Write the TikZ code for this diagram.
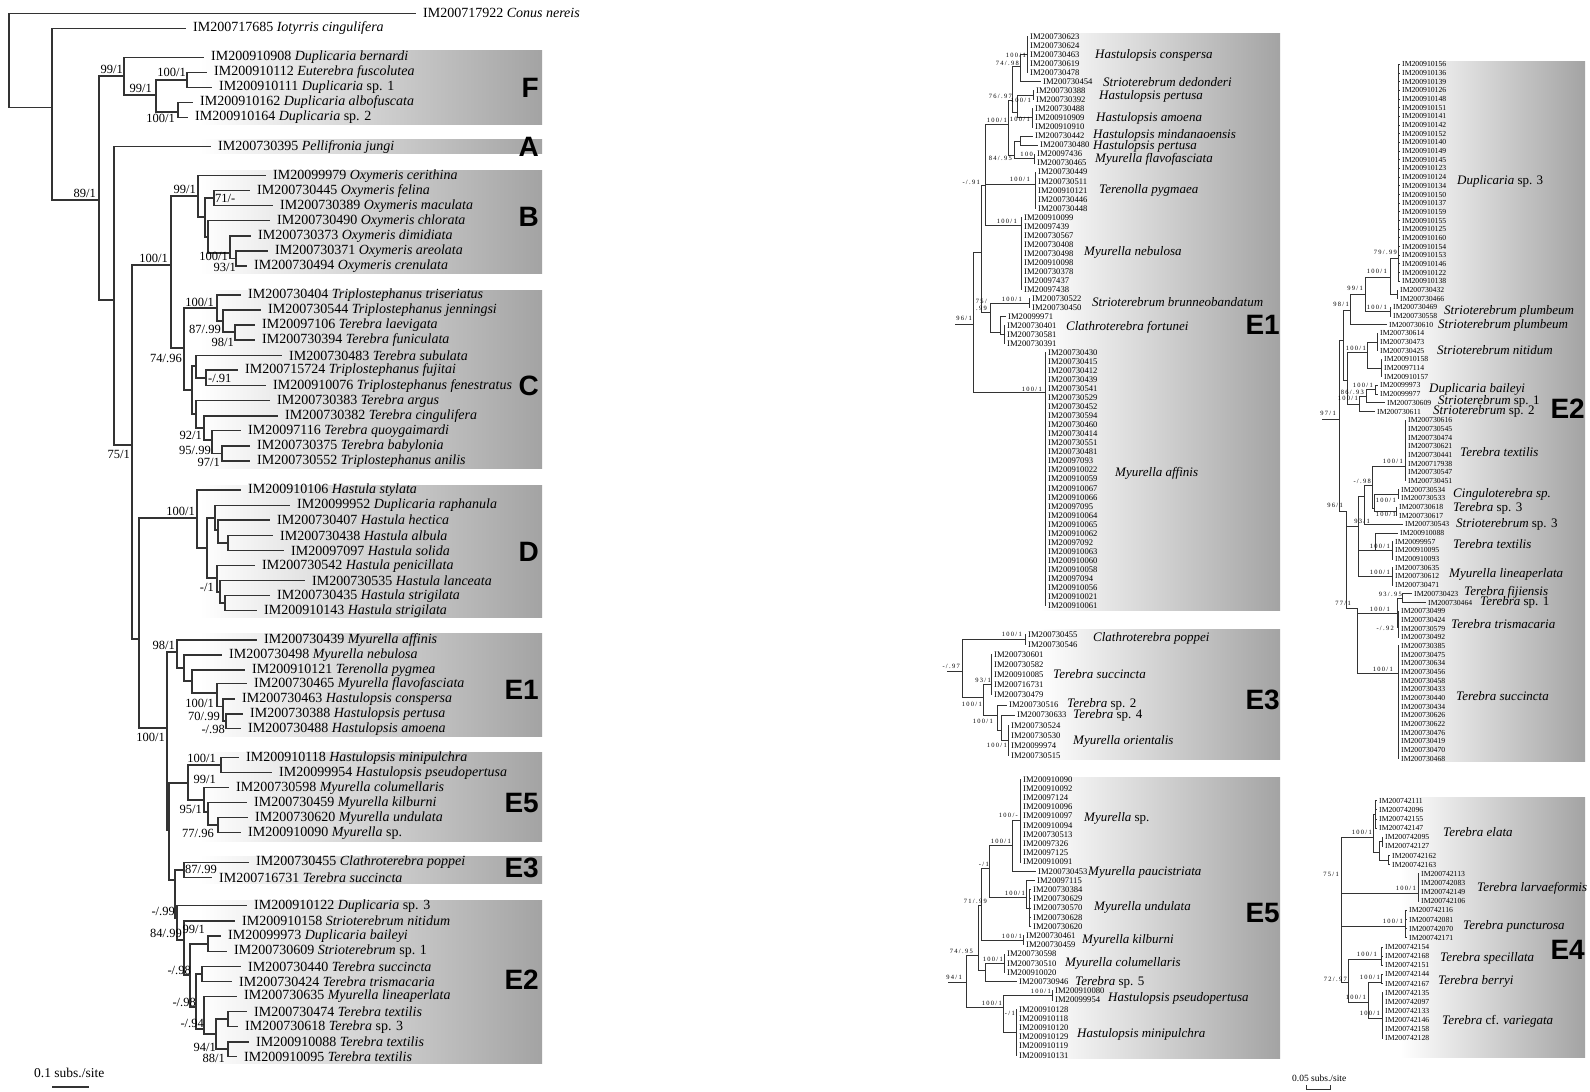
\documentclass[tikz,border=0pt]{standalone}
\usepackage{fontspec}
\setmainfont{Liberation Serif}
\newfontfamily\cladefont{Liberation Sans}
\newfontfamily\supfont[LetterSpace=20]{Liberation Serif}
\begin{document}
\begin{tikzpicture}[x=1pt, y=-1pt,
  br/.style={line width=1.3pt, black!80},
  brm/.style={line width=0.9pt, black!80},
  box/.style={left color=white, right color=black!36},
  leaf/.style={anchor=west, inner xsep=7pt, inner ysep=0pt, font=\fontsize{14}{14}\selectfont},
  sup/.style={anchor=east, inner sep=0pt, font=\fontsize{12.5}{13}\selectfont},
  supm/.style={anchor=east, inner sep=0pt, font=\supfont\fontsize{6.5}{7.5}\selectfont},
  idm/.style={anchor=west, inner xsep=2pt, inner ysep=0pt, font=\fontsize{8.6}{9}\selectfont},
  idr/.style={anchor=west, inner xsep=2pt, inner ysep=0pt, font=\fontsize{7.7}{8}\selectfont},
  spm/.style={anchor=west, inner sep=0pt, font=\fontsize{13}{14}\selectfont\itshape},
  clade/.style={anchor=east, inner sep=0pt, font=\cladefont\bfseries\fontsize{28}{28}\selectfont}
]
\useasboundingbox (0,0) rectangle (1590,1092);

\shade[box] (200,50) rectangle (542,124);
\shade[box] (200,139) rectangle (542,153);
\shade[box] (200,170) rectangle (542,273);
\shade[box] (200,290) rectangle (542,468);
\shade[box] (200,485) rectangle (542,617);
\shade[box] (200,633) rectangle (542,736);
\shade[box] (200,752) rectangle (542,841);
\shade[box] (200,856) rectangle (542,883);
\shade[box] (200,900) rectangle (542,1063);
\shade[box] (1040,33) rectangle (1280,610);
\shade[box] (1040,629) rectangle (1280,759);
\shade[box] (1040,777) rectangle (1280,1058);
\shade[box] (1400,61) rectangle (1585,761);
\shade[box] (1400,797) rectangle (1585,1057);

\node[clade] (cF) at (539,88) {F};
\node[clade] (cA) at (539,147) {A};
\node[clade] (cB) at (539,217) {B};
\node[clade] (cC) at (539,386) {C};
\node[clade] (cD) at (539,552) {D};
\node[clade] (cE1) at (539,690) {E1};
\node[clade] (cE5) at (539,803) {E5};
\node[clade] (cE3) at (539,868) {E3};
\node[clade] (cE2) at (539,980) {E2};
\node[clade] (mE1) at (1280,325) {E1};
\node[clade] (mE3) at (1280,700) {E3};
\node[clade] (mE5) at (1280,913) {E5};
\node[clade] (rE2) at (1585,409) {E2};
\node[clade] (rE4l) at (1585,950) {E4};

\coordinate (r0) at (9,13.3);
\coordinate (n52) at (52,107.3);
\coordinate (n99) at (99,200);
\coordinate (n114) at (114,300);
\coordinate (n132) at (132,445);
\coordinate (nDE) at (139,639);
\coordinate (nF) at (124,76);
\coordinate (nF1) at (156,95);
\coordinate (nF2) at (187,80);
\coordinate (nF3) at (178,112);
\coordinate (nBC) at (171,265);
\coordinate (nB) at (198,196);
\coordinate (nB1) at (205,217);
\coordinate (nB2) at (214,198);
\coordinate (nB3) at (208,237);
\coordinate (nB4) at (230,253);
\coordinate (nB5) at (236,258.5);
\coordinate (nC) at (184,348);
\coordinate (nC1) at (217,308);
\coordinate (nC3) at (223,321);
\coordinate (nC4) at (235,332);
\coordinate (nC2) at (192,390);
\coordinate (nC5) at (196,366);
\coordinate (nC7) at (206,378);
\coordinate (nC6) at (196,414);
\coordinate (nC8) at (204,428);
\coordinate (nC9) at (212,440);
\coordinate (nC10) at (222,453.5);
\coordinate (nD) at (197,518);
\coordinate (nD1) at (207,548);
\coordinate (nD2) at (215,518);
\coordinate (nD4) at (218,530);
\coordinate (nD5) at (228,543);
\coordinate (nD3) at (217,578);
\coordinate (nD6) at (220,592);
\coordinate (nD7) at (225,603);
\coordinate (nE) at (167,728);
\coordinate (nE1) at (177,652);
\coordinate (nE11) at (184,668);
\coordinate (nE12) at (192,681);
\coordinate (nE13) at (217,693);
\coordinate (nE14) at (223,706.5);
\coordinate (nE15) at (226,721);
\coordinate (nE2) at (169,830);
\coordinate (nE5) at (188,783);
\coordinate (nE51) at (221,765);
\coordinate (nE52) at (204,800);
\coordinate (nE53) at (208,812);
\coordinate (nE54) at (218,825);
\coordinate (nX) at (175,880);
\coordinate (nE3) at (184,870);
\coordinate (nE2r) at (177,918);
\coordinate (nE21) at (184,940);
\coordinate (nE22) at (190,975);
\coordinate (nE23) at (208,944);
\coordinate (nE24) at (196,1007);
\coordinate (nE25) at (202,974);
\coordinate (nE26) at (204,1029);
\coordinate (nE27) at (216,1034);
\coordinate (nE28) at (228,1019);
\coordinate (nE29) at (228,1049);

\node[leaf] (conus) at (416,13.3) {IM200717922 \textit{Conus nereis}};
\node[leaf] (iot) at (186,28.3) {IM200717685 \textit{Iotyrris cingulifera}};
\node[leaf] (fa) at (204,57.3) {IM200910908 \textit{Duplicaria bernardi}};
\node[leaf] (fb) at (207,72.3) {IM200910112 \textit{Euterebra fuscolutea}};
\node[leaf] (fc) at (212,87.3) {IM200910111 \textit{Duplicaria} sp. 1};
\node[leaf] (fd) at (193,102.3) {IM200910162 \textit{Duplicaria albofuscata}};
\node[leaf] (fe) at (188,117.3) {IM200910164 \textit{Duplicaria} sp. 2};
\node[leaf] (pj) at (211,146.7) {IM200730395 \textit{Pellifronia jungi}};
\node[leaf] (cer) at (266,175.7) {IM20099979 \textit{Oxymeris cerithina}};
\node[leaf] (fel) at (250,190.7) {IM200730445 \textit{Oxymeris felina}};
\node[leaf] (mac) at (273,205.7) {IM200730389 \textit{Oxymeris maculata}};
\node[leaf] (chl) at (270,220.7) {IM200730490 \textit{Oxymeris chlorata}};
\node[leaf] (dim) at (251,236) {IM200730373 \textit{Oxymeris dimidiata}};
\node[leaf] (are) at (268,251) {IM200730371 \textit{Oxymeris areolata}};
\node[leaf] (cre) at (247,266) {IM200730494 \textit{Oxymeris crenulata}};
\node[leaf] (tri) at (241,295) {IM200730404 \textit{Triplostephanus triseriatus}};
\node[leaf] (jen) at (261,310) {IM200730544 \textit{Triplostephanus jenningsi}};
\node[leaf] (lae) at (255,325) {IM20097106 \textit{Terebra laevigata}};
\node[leaf] (fun) at (255,340) {IM200730394 \textit{Terebra funiculata}};
\node[leaf] (sub) at (282,355.7) {IM200730483 \textit{Terebra subulata}};
\node[leaf] (fuj) at (238,370) {IM200715724 \textit{Triplostephanus fujitai}};
\node[leaf] (fen) at (266,385.7) {IM200910076 \textit{Triplostephanus fenestratus}};
\node[leaf] (arg) at (270,400.7) {IM200730383 \textit{Terebra argus}};
\node[leaf] (cin) at (278,416) {IM200730382 \textit{Terebra cingulifera}};
\node[leaf] (quo) at (241,430.7) {IM20097116 \textit{Terebra quoygaimardi}};
\node[leaf] (bab) at (250,446) {IM200730375 \textit{Terebra babylonia}};
\node[leaf] (ani) at (250,461) {IM200730552 \textit{Triplostephanus anilis}};
\node[leaf] (sty) at (241,490) {IM200910106 \textit{Hastula stylata}};
\node[leaf] (rap) at (290,505.3) {IM20099952 \textit{Duplicaria raphanula}};
\node[leaf] (hec) at (270,520) {IM200730407 \textit{Hastula hectica}};
\node[leaf] (alb) at (273,535.7) {IM200730438 \textit{Hastula albula}};
\node[leaf] (sol) at (284,550.7) {IM20097097 \textit{Hastula solida}};
\node[leaf] (pen) at (255,565.7) {IM200730542 \textit{Hastula penicillata}};
\node[leaf] (lan) at (305,580.7) {IM200730535 \textit{Hastula lanceata}};
\node[leaf] (st1) at (270,595.7) {IM200730435 \textit{Hastula strigilata}};
\node[leaf] (st2) at (257,610.7) {IM200910143 \textit{Hastula strigilata}};
\node[leaf] (aff) at (257,640) {IM200730439 \textit{Myurella affinis}};
\node[leaf] (neb) at (222,655) {IM200730498 \textit{Myurella nebulosa}};
\node[leaf] (pyg) at (245,670) {IM200910121 \textit{Terenolla pygmea}};
\node[leaf] (fla) at (247,683.7) {IM200730465 \textit{Myurella flavofasciata}};
\node[leaf] (con) at (235,699) {IM200730463 \textit{Hastulopsis conspersa}};
\node[leaf] (per) at (243,714) {IM200730388 \textit{Hastulopsis pertusa}};
\node[leaf] (amo) at (241,728.7) {IM200730488 \textit{Hastulopsis amoena}};
\node[leaf] (min) at (239,757.7) {IM200910118 \textit{Hastulopsis minipulchra}};
\node[leaf] (pse) at (272,772.7) {IM20099954 \textit{Hastulopsis pseudopertusa}};
\node[leaf] (col) at (229,787.7) {IM200730598 \textit{Myurella columellaris}};
\node[leaf] (kil) at (247,802.7) {IM200730459 \textit{Myurella kilburni}};
\node[leaf] (und) at (248,817.7) {IM200730620 \textit{Myurella undulata}};
\node[leaf] (msp) at (241,832.7) {IM200910090 \textit{Myurella} sp.};
\node[leaf] (pop) at (249,862.3) {IM200730455 \textit{Clathroterebra poppei}};
\node[leaf] (suc) at (212,877.3) {IM200716731 \textit{Terebra succincta}};
\node[leaf] (ds3) at (247,905.7) {IM200910122 \textit{Duplicaria} sp. 3};
\node[leaf] (nit) at (235,921) {IM200910158 \textit{Strioterebrum nitidum}};
\node[leaf] (bai) at (221,936) {IM20099973 \textit{Duplicaria baileyi}};
\node[leaf] (ss1) at (227,951.3) {IM200730609 \textit{Strioterebrum} sp. 1};
\node[leaf] (tsu) at (241,966.3) {IM200730440 \textit{Terebra succincta}};
\node[leaf] (tri2) at (232,981.3) {IM200730424 \textit{Terebra trismacaria}};
\node[leaf] (lin) at (237,996.3) {IM200730635 \textit{Myurella lineaperlata}};
\node[leaf] (tx1) at (247,1011.7) {IM200730474 \textit{Terebra textilis}};
\node[leaf] (ts3) at (238,1026.7) {IM200730618 \textit{Terebra} sp. 3};
\node[leaf] (tx2) at (249,1042) {IM200910088 \textit{Terebra textilis}};
\node[leaf] (tx3) at (237,1056.7) {IM200910095 \textit{Terebra textilis}};

\draw[br] (r0) |- (conus.west) (r0) |- (n52) (n52) |- (iot.west) (n52) |- (n99)
  (n99) |- (nF) (nF) |- (fa.west) (nF) |- (nF1) (nF1) |- (nF2) (nF1) |- (nF3)
  (nF2) |- (fb.west) (nF2) |- (fc.west) (nF3) |- (fd.west) (nF3) |- (fe.west)
  (n99) |- (n114) (n114) |- (pj.west) (n114) |- (n132);
\draw[br] (n132) |- (nBC) (nBC) |- (nB) (nB) |- (cer.west) (nB) |- (nB1) (nB1) |- (nB2)
  (nB2) |- (fel.west) (nB2) |- (mac.west) (nB1) |- (nB3) (nB3) |- (chl.west) (nB3) |- (nB4)
  (nB4) |- (dim.west) (nB4) |- (nB5) (nB5) |- (are.west) (nB5) |- (cre.west);
\draw[br] (nBC) |- (nC) (nC) |- (nC1) (nC1) |- (tri.west) (nC1) |- (nC3) (nC3) |- (jen.west)
  (nC3) |- (nC4) (nC4) |- (lae.west) (nC4) |- (fun.west) (nC) |- (nC2) (nC2) |- (nC5)
  (nC5) |- (sub.west) (nC5) |- (nC7) (nC7) |- (fuj.west) (nC7) |- (fen.west) (nC2) |- (nC6)
  (nC6) |- (arg.west) (nC6) |- (nC8) (nC8) |- (cin.west) (nC8) |- (nC9) (nC9) |- (quo.west)
  (nC9) |- (nC10) (nC10) |- (bab.west) (nC10) |- (ani.west);
\draw[br] (n132) |- (nDE) (nDE) |- (nD) (nD) |- (sty.west) (nD) |- (nD1) (nD1) |- (nD2)
  (nD2) |- (rap.west) (nD2) |- (nD4) (nD4) |- (hec.west) (nD4) |- (nD5) (nD5) |- (alb.west)
  (nD5) |- (sol.west) (nD1) |- (nD3) (nD3) |- (pen.west) (nD3) |- (nD6) (nD6) |- (lan.west)
  (nD6) |- (nD7) (nD7) |- (st1.west) (nD7) |- (st2.west);
\draw[br] (nDE) |- (nE) (nE) |- (nE1) (nE1) |- (aff.west) (nE1) |- (nE11) (nE11) |- (neb.west)
  (nE11) |- (nE12) (nE12) |- (pyg.west) (nE12) |- (nE13) (nE13) |- (fla.west) (nE13) |- (nE14)
  (nE14) |- (con.west) (nE14) |- (nE15) (nE15) |- (per.west) (nE15) |- (amo.west);
\draw[br] (nE) |- (nE2) (nE2) |- (nE5) (nE5) |- (nE51) (nE51) |- (min.west) (nE51) |- (pse.west)
  (nE5) |- (nE52) (nE52) |- (col.west) (nE52) |- (nE53) (nE53) |- (kil.west) (nE53) |- (nE54)
  (nE54) |- (und.west) (nE54) |- (msp.west)
  (nE2) |- (nX) (nX) |- (nE3) (nE3) |- (pop.west) (nE3) |- (suc.west);
\draw[br] (nX) |- (nE2r) (nE2r) |- (ds3.west) (nE2r) |- (nE21) (nE21) |- (nit.west) (nE21) |- (nE22)
  (nE22) |- (nE23) (nE23) |- (bai.west) (nE23) |- (ss1.west) (nE22) |- (nE24) (nE24) |- (nE25)
  (nE25) |- (tsu.west) (nE25) |- (tri2.west) (nE24) |- (nE26) (nE26) |- (lin.west) (nE26) |- (nE27)
  (nE27) |- (nE28) (nE28) |- (tx1.west) (nE28) |- (ts3.west) (nE27) |- (nE29) (nE29) |- (tx2.west)
  (nE29) |- (tx3.west);

\node[sup] (s1) at (96,193) {89/1};
\node[sup] (s2) at (123,69) {99/1};
\node[sup] (s3) at (186,72) {100/1};
\node[sup] (s4) at (152,88) {99/1};
\node[sup] (s5) at (175,118) {100/1};
\node[sup] (s6) at (196,189) {99/1};
\node[sup, anchor=west] (s7) at (215,198) {71/-};
\node[sup] (s8) at (168,258) {100/1};
\node[sup] (s9) at (228,256) {100/1};
\node[sup] (s10) at (236,267) {93/1};
\node[sup] (s11) at (214,302) {100/1};
\node[sup] (s12) at (221,329) {87/.99};
\node[sup] (s13) at (234,342) {98/1};
\node[sup] (s14) at (182,358) {74/.96};
\node[sup, anchor=west] (s15) at (208,378) {-/.91};
\node[sup] (s16) at (202,435) {92/1};
\node[sup] (s17) at (211,450) {95/.99};
\node[sup] (s18) at (220,462) {97/1};
\node[sup] (s19) at (130,454) {75/1};
\node[sup] (s20) at (195,511) {100/1};
\node[sup] (s21) at (214,587) {-/1};
\node[sup] (s22) at (175,645) {98/1};
\node[sup] (s23) at (214,703) {100/1};
\node[sup] (s24) at (220,716) {70/.99};
\node[sup] (s25) at (225,729) {-/.98};
\node[sup] (s26) at (165,737) {100/1};
\node[sup] (s27) at (216,758) {100/1};
\node[sup] (s28) at (216,779) {99/1};
\node[sup] (s29) at (202,809) {95/1};
\node[sup] (s30) at (214,833) {77/.96};
\node[sup, anchor=west] (s31) at (185,869) {87/.99};
\node[sup] (s32) at (175,911) {-/.99};
\node[sup] (s33) at (182,933) {84/.99};
\node[sup] (s34) at (205,929) {99/1};
\node[sup] (s35) at (191,970) {-/.98};
\node[sup] (s36) at (196,1002) {-/.98};
\node[sup] (s37) at (204,1023) {-/.94};
\node[sup] (s38) at (216,1047) {94/1};
\node[sup] (s39) at (225,1058) {88/1};

\node[anchor=west, inner sep=0pt, font=\fontsize{13.5}{14}\selectfont] (sc1) at (34,1073) {0.1 subs./site};
\coordinate (sb1) at (52,1087);
\coordinate (sb2) at (89,1087);
\draw[br] (sb1) -- (sb2);

\coordinate (mst) at (955,324);
\coordinate (mr) at (973,324);
\coordinate (mB) at (981,252);
\coordinate (mC) at (985,185);
\coordinate (mE) at (1008,124);
\coordinate (mG) at (1012,100);
\coordinate (mI) at (1020,66);
\coordinate (mCon) at (1027,54.8);
\coordinate (mG2) at (1017,112);
\coordinate (mPer) at (1033,95.4);
\coordinate (mAmo) at (1032,117.9);
\coordinate (mH) at (1014,155);
\coordinate (mH2) at (1020,141);
\coordinate (mFla) at (1034,158.6);
\coordinate (mTer) at (1035,184);
\coordinate (mNeb) at (1021,225);
\coordinate (mD) at (990,312);
\coordinate (mStr) at (1029,303.1);
\coordinate (mCl) at (1000,332);
\coordinate (mCla) at (1004,334.7);
\coordinate (mAff) at (1045,392);

\foreach \id [count=\k from 0] in {IM200730623,IM200730624,IM200730463,IM200730619,IM200730478}
  {\node[idm] (a\k) at (1028,36.7+9.03*\k) {\id}; \draw[brm] (mCon) |- (a\k.west);}
\node[idm] (a5) at (1041,81.85) {IM200730454};
\foreach \id [count=\k from 6] in {IM200730388,IM200730392}
  {\node[idm] (a\k) at (1034,36.7+9.03*\k) {\id}; \draw[brm] (mPer) |- (a\k.west);}
\foreach \id [count=\k from 8] in {IM200730488,IM200910909,IM200910910}
  {\node[idm] (a\k) at (1033,36.7+9.03*\k) {\id}; \draw[brm] (mAmo) |- (a\k.west);}
\node[idm] (a11) at (1033,136.03) {IM200730442};
\node[idm] (a12) at (1038,145.06) {IM200730480};
\foreach \id [count=\k from 13] in {IM20097436,IM200730465}
  {\node[idm] (a\k) at (1035,36.7+9.03*\k) {\id}; \draw[brm] (mFla) |- (a\k.west);}
\foreach \id [count=\k from 15] in {IM200730449,IM200730511,IM200910121,IM200730446,IM200730448}
  {\node[idm] (a\k) at (1036,36.7+9.03*\k) {\id}; \draw[brm] (mTer) |- (a\k.west);}
\foreach \id [count=\k from 20] in {IM200910099,IM20097439,IM200730567,IM200730408,IM200730498,IM200910098,IM200730378,IM20097437,IM20097438}
  {\node[idm] (a\k) at (1022,36.7+9.03*\k) {\id}; \draw[brm] (mNeb) |- (a\k.west);}
\foreach \id [count=\k from 29] in {IM200730522,IM200730450}
  {\node[idm] (a\k) at (1030,36.7+9.03*\k) {\id}; \draw[brm] (mStr) |- (a\k.west);}
\node[idm] (a31) at (1006,316.63) {IM20099971};
\foreach \id [count=\k from 32] in {IM200730401,IM200730581,IM200730391}
  {\node[idm] (a\k) at (1005,36.7+9.03*\k) {\id}; \draw[brm] (mCla) |- (a\k.west);}
\foreach \id [count=\k from 35] in {IM200730430,IM200730415,IM200730412,IM200730439,IM200730541,IM200730529,IM200730452,IM200730594,IM200730460,IM200730414,IM200730551,IM200730481,IM20097093,IM200910022,IM200910059,IM200910067,IM200910066,IM20097095,IM200910064,IM200910065,IM200910062,IM20097092,IM200910063,IM200910060,IM200910058,IM20097094,IM200910056,IM200910021,IM200910061}
  {\node[idm] (a\k) at (1046,36.7+9.03*\k) {\id}; \draw[brm] (mAff) |- (a\k.west);}
\draw[brm] (mst) -- (mr) (mr) |- (mB) (mr) |- (mAff) (mB) |- (mC) (mB) |- (mD)
  (mC) |- (mE) (mC) |- (mTer) (mC) |- (mNeb) (mE) |- (mG) (mE) |- (mH) (mG) |- (mI)
  (mG) |- (mG2) (mI) |- (mCon) (mI) |- (a5.west) (mG2) |- (mPer) (mG2) |- (mAmo)
  (mH) |- (mH2) (mH) |- (mFla) (mH2) |- (a11.west) (mH2) |- (a12.west)
  (mD) |- (mStr) (mD) |- (mCl) (mCl) |- (a31.west) (mCl) |- (mCla);

\node[spm] (ma1) at (1095,55.7) {Hastulopsis conspersa};
\node[spm] (ma2) at (1103,81.7) {Strioterebrum dedonderi};
\node[spm] (ma3) at (1099,96.7) {Hastulopsis pertusa};
\node[spm] (ma4) at (1096,118.3) {Hastulopsis amoena};
\node[spm] (ma5) at (1093,135) {Hastulopsis mindanaoensis};
\node[spm] (ma6) at (1093,146.5) {Hastulopsis pertusa};
\node[spm] (ma7) at (1095,159.8) {Myurella flavofasciata};
\node[spm] (ma8) at (1099,190.7) {Terenolla pygmaea};
\node[spm] (ma9) at (1084,252.7) {Myurella nebulosa};
\node[spm] (ma10) at (1092,302.3) {Strioterebrum brunneobandatum};
\node[spm] (ma11) at (1066,327.3) {Clathroterebra fortunei};
\node[spm] (ma12) at (1115,473.3) {Myurella affinis};

\node[supm] (mb1) at (972,318) {96/1};
\node[supm] (mb2) at (980,182) {-/.91};
\node[supm] (mb3) at (1007,120) {100/1};
\node[supm] (mb4) at (1012,96) {76/.97};
\node[supm] (mb5) at (1019,63) {74/.98};
\node[supm] (mb6) at (1026,55) {100/1};
\node[supm] (mb7) at (1031,100) {100/1};
\node[supm] (mb8) at (1030,119) {100/1};
\node[supm] (mb9) at (1012,158) {84/.95};
\node[supm] (mb10) at (1033,154) {100};
\node[supm] (mb11) at (1030,179) {100/1};
\node[supm] (mb12) at (1017,221) {100/1};
\node[supm, align=right] (mb13) at (987,305) {75/\\.99};
\node[supm] (mb14) at (1022,299) {100/1};
\node[supm] (mb15) at (1042,389) {100/1};

\coordinate (m3s) at (947,671);
\coordinate (m3r) at (962,671);
\coordinate (m3P) at (1025,639.3);
\coordinate (m3B) at (983,697);
\coordinate (m3Suc) at (991,684.5);
\coordinate (m3C) at (997,715);
\coordinate (m3D) at (1001,730);
\coordinate (m3Ori) at (1008,740.3);
\foreach \id [count=\k from 0] in {IM200730455,IM200730546}
  {\node[idm] (b\k) at (1026,634.3+10.1*\k) {\id}; \draw[brm] (m3P) |- (b\k.west);}
\foreach \id [count=\k from 2] in {IM200730601,IM200730582,IM200910085,IM200716731,IM200730479}
  {\node[idm] (b\k) at (992,634.3+10.1*\k) {\id}; \draw[brm] (m3Suc) |- (b\k.west);}
\node[idm] (b7) at (1007,705) {IM200730516};
\node[idm] (b8) at (1015,715.1) {IM200730633};
\foreach \id [count=\k from 9] in {IM200730524,IM200730530,IM20099974,IM200730515}
  {\node[idm] (b\k) at (1009,634.3+10.1*\k) {\id}; \draw[brm] (m3Ori) |- (b\k.west);}
\draw[brm] (m3s) -- (m3r) (m3r) |- (m3P) (m3r) |- (m3B) (m3B) |- (m3Suc) (m3B) |- (m3C)
  (m3C) |- (b7.west) (m3C) |- (m3D) (m3D) |- (b8.west) (m3D) |- (m3Ori);
\node[spm] (mc1) at (1093,638) {Clathroterebra poppei};
\node[spm] (mc2) at (1053,674) {Terebra succincta};
\node[spm] (mc3) at (1067,704) {Terebra \textup{sp. 2}};
\node[spm] (mc4) at (1073,715) {Terebra \textup{sp. 4}};
\node[spm] (mc5) at (1073,741) {Myurella orientalis};
\node[supm] (md1) at (960,666) {-/.97};
\node[supm] (md2) at (1022,634) {100/1};
\node[supm] (md3) at (991,680) {93/1};
\node[supm] (md4) at (982,704) {100/1};
\node[supm] (md5) at (993,721) {100/1};
\node[supm] (md6) at (1007,745) {100/1};

\coordinate (m5s) at (948,982);
\coordinate (m5r) at (966,982);
\coordinate (m5A) at (978,955);
\coordinate (m5B) at (981,905);
\coordinate (m5D) at (989,868);
\coordinate (m5Sp) at (1012,845);
\coordinate (m5Spc) at (1020,820.7);
\coordinate (m5Un) at (1026,897);
\coordinate (m5Unc) at (1029,908.1);
\coordinate (m5Kil) at (1023,940.3);
\coordinate (m5C) at (985,970);
\coordinate (m5Col) at (1004,963.3);
\coordinate (m5H) at (1003,1007);
\coordinate (m5Pse) at (1052,995.5);
\coordinate (m5Min) at (1016,1032.3);
\foreach \id [count=\k from 0] in {IM200910090,IM200910092,IM20097124,IM200910096,IM200910097,IM200910094,IM200730513,IM20097326,IM20097125,IM200910091}
  {\node[idm] (c\k) at (1021,779.3+9.2*\k) {\id}; \draw[brm] (m5Spc) |- (c\k.west);}
\node[idm] (c10) at (1036,871.3) {IM200730453};
\node[idm] (c11) at (1035,880.5) {IM20097115};
\foreach \id [count=\k from 12] in {IM200730384,IM200730629,IM200730570,IM200730628,IM200730620}
  {\node[idm] (c\k) at (1031,779.3+9.2*\k) {\id}; \draw[brm] (m5Unc) |- (c\k.west);}
\foreach \id [count=\k from 17] in {IM200730461,IM200730459}
  {\node[idm] (c\k) at (1024,779.3+9.2*\k) {\id}; \draw[brm] (m5Kil) |- (c\k.west);}
\foreach \id [count=\k from 19] in {IM200730598,IM200730510,IM200910020}
  {\node[idm] (c\k) at (1005,779.3+9.2*\k) {\id}; \draw[brm] (m5Col) |- (c\k.west);}
\node[idm] (c22) at (1017,981.7) {IM200730946};
\foreach \id [count=\k from 23] in {IM200910080,IM20099954}
  {\node[idm] (c\k) at (1053,779.3+9.2*\k) {\id}; \draw[brm] (m5Pse) |- (c\k.west);}
\foreach \id [count=\k from 25] in {IM200910128,IM200910118,IM200910120,IM200910129,IM200910119,IM200910131}
  {\node[idm] (c\k) at (1017,779.3+9.2*\k) {\id}; \draw[brm] (m5Min) |- (c\k.west);}
\draw[brm] (m5s) -- (m5r) (m5r) |- (m5A) (m5r) |- (m5H) (m5A) |- (m5B) (m5A) |- (m5C)
  (m5B) |- (m5D) (m5B) |- (m5Kil) (m5D) |- (m5Sp) (m5D) |- (m5Un) (m5Sp) |- (m5Spc)
  (m5Sp) |- (c10.west) (m5Un) |- (c11.west) (m5Un) |- (m5Unc) (m5C) |- (m5Col)
  (m5C) |- (c22.west) (m5H) |- (m5Pse) (m5H) |- (m5Min);
\node[spm] (me1) at (1084,818) {Myurella \textup{sp.}};
\node[spm] (me2) at (1088,872) {Myurella paucistriata};
\node[spm] (me3) at (1094,907) {Myurella undulata};
\node[spm] (me4) at (1082,940) {Myurella kilburni};
\node[spm] (me5) at (1065,963) {Myurella columellaris};
\node[spm] (me6) at (1075,982) {Terebra \textup{sp. 5}};
\node[spm] (me7) at (1108,998) {Hastulopsis pseudopertusa};
\node[spm] (me8) at (1077,1034) {Hastulopsis minipulchra};
\node[supm] (mf1) at (962,977) {94/1};
\node[supm] (mf2) at (973,951) {74/.95};
\node[supm] (mf3) at (987,901) {71/.99};
\node[supm] (mf4) at (989,864) {-/1};
\node[supm] (mf5) at (1011,841) {100/1};
\node[supm] (mf6) at (1018,815) {100/-};
\node[supm] (mf7) at (1025,893) {100/1};
\node[supm] (mf8) at (1022,936) {100/1};
\node[supm] (mf9) at (1003,959) {100/1};
\node[supm] (mf10) at (1002,1003) {100/1};
\node[supm] (mf11) at (1051,991) {100/1};
\node[supm] (mf12) at (1015,1013) {-/1};

\coordinate (rs) at (1322,419);
\coordinate (rR) at (1339,419);
\coordinate (rT) at (1343,340);
\coordinate (rT1) at (1350,310);
\coordinate (rA1) at (1365,294);
\coordinate (rDup) at (1390,277);
\coordinate (rDupc) at (1398,258);
\coordinate (rDupp) at (1397,294.4);
\coordinate (rPlu) at (1390,311.7);
\coordinate (rT2) at (1347,380);
\coordinate (rN) at (1367,352);
\coordinate (rNa) at (1377,342.1);
\coordinate (rNb) at (1381,368.1);
\coordinate (rS2) at (1359,404);
\coordinate (rS1) at (1366,396);
\coordinate (rBai) at (1375,389.8);
\coordinate (rBot) at (1346,511);
\coordinate (rU) at (1358,526);
\coordinate (rUa) at (1364,496);
\coordinate (rU1) at (1372,485);
\coordinate (rTex) at (1405,466);
\coordinate (rU3) at (1374,508);
\coordinate (rCin) at (1398,494);
\coordinate (rS3) at (1396,511.4);
\coordinate (rU2) at (1375,550);
\coordinate (rTex2) at (1392,550.4);
\coordinate (rLin) at (1392,576.4);
\coordinate (rV) at (1357,608);
\coordinate (rFT) at (1397,613);
\coordinate (rFij) at (1402,598);
\coordinate (rTri) at (1398,627);
\coordinate (rSuc) at (1398,673);
\foreach \id [count=\k from 0] in {IM200910156,IM200910136,IM200910139,IM200910126,IM200910148,IM200910151,IM200910141,IM200910142,IM200910152,IM200910140,IM200910149,IM200910145,IM200910123,IM200910124,IM200910134,IM200910150,IM200910137,IM200910159,IM200910155,IM200910125,IM200910160,IM200910154,IM200910153,IM200910146,IM200910122,IM200910138}
  {\node[idr] (d\k) at (1400,64.3+8.68*\k) {\id}; \draw[brm] (rDupc) |- (d\k.west);}
\foreach \id [count=\k from 26] in {IM200730432,IM200730466}
  {\node[idr] (d\k) at (1398,64.3+8.68*\k) {\id}; \draw[brm] (rDupp) |- (d\k.west);}
\foreach \id [count=\k from 28] in {IM200730469,IM200730558}
  {\node[idr] (d\k) at (1391,64.3+8.68*\k) {\id}; \draw[brm] (rPlu) |- (d\k.west);}
\node[idr] (d30) at (1387,324.7) {IM200730610};
\foreach \id [count=\k from 31] in {IM200730614,IM200730473,IM200730425}
  {\node[idr] (d\k) at (1378,64.3+8.68*\k) {\id}; \draw[brm] (rNa) |- (d\k.west);}
\foreach \id [count=\k from 34] in {IM200910158,IM20097114,IM200910157}
  {\node[idr] (d\k) at (1382,64.3+8.68*\k) {\id}; \draw[brm] (rNb) |- (d\k.west);}
\foreach \id [count=\k from 37] in {IM20099973,IM20099977}
  {\node[idr] (d\k) at (1378,64.3+8.68*\k) {\id}; \draw[brm] (rBai) |- (d\k.west);}
\node[idr] (d39) at (1385,402.8) {IM200730609};
\node[idr] (d40) at (1375,411.5) {IM200730611};
\foreach \id [count=\k from 41] in {IM200730616,IM200730545,IM200730474,IM200730621,IM200730441,IM200717938,IM200730547,IM200730451}
  {\node[idr] (d\k) at (1406,64.3+8.68*\k) {\id}; \draw[brm] (rTex) |- (d\k.west);}
\foreach \id [count=\k from 49] in {IM200730534,IM200730533}
  {\node[idr] (d\k) at (1399,64.3+8.68*\k) {\id}; \draw[brm] (rCin) |- (d\k.west);}
\foreach \id [count=\k from 51] in {IM200730618,IM200730617}
  {\node[idr] (d\k) at (1397,64.3+8.68*\k) {\id}; \draw[brm] (rS3) |- (d\k.west);}
\node[idr] (d53) at (1403,524.3) {IM200730543};
\node[idr] (d54) at (1398,533) {IM200910088};
\foreach \id [count=\k from 55] in {IM20099957,IM200910095,IM200910093}
  {\node[idr] (d\k) at (1393,64.3+8.68*\k) {\id}; \draw[brm] (rTex2) |- (d\k.west);}
\foreach \id [count=\k from 58] in {IM200730635,IM200730612,IM200730471}
  {\node[idr] (d\k) at (1393,64.3+8.68*\k) {\id}; \draw[brm] (rLin) |- (d\k.west);}
\node[idr] (d61) at (1412,593.8) {IM200730423};
\node[idr] (d62) at (1426,602.5) {IM200730464};
\foreach \id [count=\k from 63] in {IM200730499,IM200730424,IM200730579,IM200730492}
  {\node[idr] (d\k) at (1399,64.3+8.68*\k) {\id}; \draw[brm] (rTri) |- (d\k.west);}
\foreach \id [count=\k from 67] in {IM200730385,IM200730475,IM200730634,IM200730456,IM200730458,IM200730433,IM200730440,IM200730434,IM200730626,IM200730622,IM200730476,IM200730419,IM200730470,IM200730468}
  {\node[idr] (d\k) at (1399,64.3+8.68*\k) {\id}; \draw[brm] (rSuc) |- (d\k.west);}
\draw[brm] (rs) -- (rR) (rR) |- (rT) (rR) |- (rBot) (rT) |- (rT1) (rT) |- (rT2)
  (rT1) |- (rA1) (rT1) |- (d30.west) (rA1) |- (rDup) (rA1) |- (rPlu) (rDup) |- (rDupc)
  (rDup) |- (rDupp) (rT2) |- (rN) (rT2) |- (rS2) (rN) |- (rNa) (rN) |- (rNb)
  (rS2) |- (rS1) (rS2) |- (d40.west) (rS1) |- (rBai) (rS1) |- (d39.west)
  (rBot) |- (rU) (rBot) |- (rV) (rU) |- (rUa) (rU) |- (rU2) (rU) |- (rLin)
  (rUa) |- (rU1) (rUa) |- (d53.west) (rU1) |- (rTex) (rU1) |- (rU3) (rU3) |- (rCin)
  (rU3) |- (rS3) (rU2) |- (d54.west) (rU2) |- (rTex2) (rV) |- (rFT) (rV) |- (rSuc)
  (rFT) |- (rFij) (rFT) |- (rTri) (rFij) |- (d61.west) (rFij) |- (d62.west);
\node[spm] (re1) at (1457,181.7) {Duplicaria \textup{sp. 3}};
\node[spm] (re2) at (1444,311) {Strioterebrum plumbeum};
\node[spm] (re3) at (1438,325) {Strioterebrum plumbeum};
\node[spm] (re4) at (1437,350) {Strioterebrum nitidum};
\node[spm] (re5) at (1429,389) {Duplicaria baileyi};
\node[spm] (re6) at (1438,401) {Strioterebrum \textup{sp. 1}};
\node[spm] (re7) at (1433,411) {Strioterebrum \textup{sp. 2}};
\node[spm] (re8) at (1460,452) {Terebra textilis};
\node[spm] (re9) at (1453,494) {Cinguloterebra sp.};
\node[spm] (re10) at (1453,508) {Terebra \textup{sp. 3}};
\node[spm] (re11) at (1456,524) {Strioterebrum \textup{sp. 3}};
\node[spm] (re12) at (1453,544) {Terebra textilis};
\node[spm] (re13) at (1449,574) {Myurella lineaperlata};
\node[spm] (re14) at (1464,592) {Terebra fijiensis};
\node[spm] (re15) at (1480,602) {Terebra \textup{sp. 1}};
\node[spm] (re16) at (1451,624) {Terebra trismacaria};
\node[spm] (re17) at (1456,696) {Terebra succincta};
\node[supm] (rf1) at (1336,413) {97/1};
\node[supm] (rf2) at (1349,304) {98/1};
\node[supm] (rf3) at (1363,288) {99/1};
\node[supm] (rf4) at (1387,271) {100/1};
\node[supm] (rf5) at (1397,252) {79/.99};
\node[supm] (rf6) at (1387,307) {100/1};
\node[supm] (rf7) at (1366,348) {100/1};
\node[supm] (rf8) at (1373,385) {100/1};
\node[supm] (rf9) at (1364,392) {86/.93};
\node[supm] (rf10) at (1358,398) {100/1};
\node[supm] (rf11) at (1343,505) {96/1};
\node[supm] (rf12) at (1403,461) {100/1};
\node[supm] (rf13) at (1371,481) {-/.98};
\node[supm] (rf14) at (1396,500) {100/1};
\node[supm] (rf15) at (1396,514) {100/1};
\node[supm] (rf16) at (1370,521) {93/1};
\node[supm] (rf17) at (1390,546) {100/1};
\node[supm] (rf18) at (1390,572) {100/1};
\node[supm] (rf19) at (1402,594) {93/.95};
\node[supm] (rf20) at (1351,603) {77/1};
\node[supm] (rf21) at (1390,609) {100/1};
\node[supm] (rf22) at (1394,628) {-/.92};
\node[supm] (rf23) at (1393,669) {100/1};

\coordinate (rE4) at (1341,837);
\coordinate (rEla) at (1373,837);
\coordinate (rEla1) at (1375,814.4);
\coordinate (rEla2s) at (1379,852);
\coordinate (rEla2) at (1382,841.9);
\coordinate (rEla3) at (1388,860.1);
\coordinate (rLar) at (1418,893);
\coordinate (rPun) at (1405,926);
\coordinate (rLow) at (1348,982);
\coordinate (rSpe) at (1381,959);
\coordinate (rBV) at (1368,1002);
\coordinate (rBer) at (1381,982);
\coordinate (rVar) at (1382,1018);
\foreach \id [count=\k from 0] in {IM200742111,IM200742096,IM200742155,IM200742147}
  {\node[idr] (g\k) at (1377,800.7+9.14*\k) {\id}; \draw[brm] (rEla1) |- (g\k.west);}
\foreach \id [count=\k from 4] in {IM200742095,IM200742127}
  {\node[idr] (g\k) at (1383,800.7+9.14*\k) {\id}; \draw[brm] (rEla2) |- (g\k.west);}
\foreach \id [count=\k from 6] in {IM200742162,IM200742163}
  {\node[idr] (g\k) at (1390,800.7+9.14*\k) {\id}; \draw[brm] (rEla3) |- (g\k.west);}
\foreach \id [count=\k from 8] in {IM200742113,IM200742083,IM200742149,IM200742106}
  {\node[idr] (g\k) at (1419,800.7+9.14*\k) {\id}; \draw[brm] (rLar) |- (g\k.west);}
\foreach \id [count=\k from 12] in {IM200742116,IM200742081,IM200742070,IM200742171}
  {\node[idr] (g\k) at (1407,800.7+9.14*\k) {\id}; \draw[brm] (rPun) |- (g\k.west);}
\foreach \id [count=\k from 16] in {IM200742154,IM200742168,IM200742151}
  {\node[idr] (g\k) at (1383,800.7+9.14*\k) {\id}; \draw[brm] (rSpe) |- (g\k.west);}
\foreach \id [count=\k from 19] in {IM200742144,IM200742167}
  {\node[idr] (g\k) at (1383,800.7+9.14*\k) {\id}; \draw[brm] (rBer) |- (g\k.west);}
\foreach \id [count=\k from 21] in {IM200742135,IM200742097,IM200742133,IM200742146,IM200742158,IM200742128}
  {\node[idr] (g\k) at (1383,800.7+9.14*\k) {\id}; \draw[brm] (rVar) |- (g\k.west);}
\draw[brm] (rE4) |- (rEla) (rE4) |- (rLar) (rE4) |- (rPun) (rE4) |- (rLow)
  (rEla) |- (rEla1) (rEla) |- (rEla2s) (rEla2s) |- (rEla2) (rEla2s) |- (rEla3)
  (rLow) |- (rSpe) (rLow) |- (rBV) (rBV) |- (rBer) (rBV) |- (rVar);
\node[spm] (rg1) at (1443,832) {Terebra elata};
\node[spm] (rg2) at (1477,888) {Terebra larvaeformis};
\node[spm] (rg3) at (1463,926) {Terebra puncturosa};
\node[spm] (rg4) at (1440,958) {Terebra specillata};
\node[spm] (rg5) at (1438,981) {Terebra berryi};
\node[spm] (rg6) at (1442,1021) {Terebra \textup{cf.} variegata};
\node[supm] (rh1) at (1372,832) {100/1};
\node[supm] (rh2) at (1339,874) {75/1};
\node[supm] (rh3) at (1416,888) {100/1};
\node[supm] (rh4) at (1403,921) {100/1};
\node[supm] (rh5) at (1377,954) {100/1};
\node[supm] (rh6) at (1347,979) {72/.97};
\node[supm] (rh7) at (1380,977) {100/1};
\node[supm] (rh8) at (1366,997) {100/1};
\node[supm] (rh9) at (1380,1013) {100/1};

\node[anchor=west, inner sep=0pt, font=\fontsize{9.5}{10}\selectfont] (sc2) at (1292,1078) {0.05 subs./site};
\coordinate (sb3) at (1306,1089);
\coordinate (sb4) at (1330,1089);
\draw[brm] (sb3) ++(0,-4) -- (sb3) -- (sb4) -- ++(0,-4);
\end{tikzpicture}
\end{document}
